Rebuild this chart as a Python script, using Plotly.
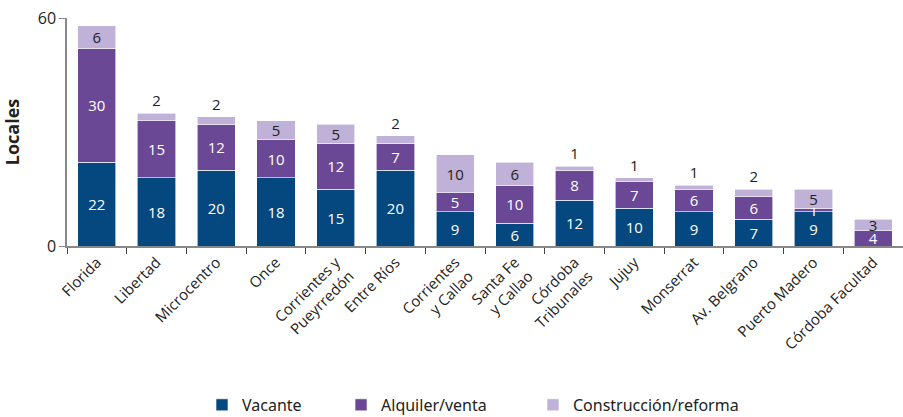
import plotly.graph_objects as go

categories = ["Florida", "Libertad", "Microcentro", "Once", "Corrientes y<br>Pueyrredón",
              "Entre Ríos", "Corrientes<br>y Callao", "Santa Fe<br>y Callao", "Córdoba<br>Tribunales",
              "Jujuy", "Monserrat", "Av. Belgrano", "Puerto Madero", "Córdoba Facultad"]
vacante = [22, 18, 20, 18, 15, 20, 9, 6, 12, 10, 9, 7, 9, 0]
alquiler = [30, 15, 12, 10, 12, 7, 5, 10, 8, 7, 6, 6, 1, 4]
construccion = [6, 2, 2, 5, 5, 2, 10, 6, 1, 1, 1, 2, 5, 3]

c_vac = "#05487f"
c_alq = "#6a4896"
c_con = "#bfb1d7"
font_fam = "Open Sans, DejaVu Sans, sans-serif"

def txt(vals):
    return [str(v) if v > 0 else "" for v in vals]

common = dict(insidetextanchor="middle", constraintext="none", textangle=0, cliponaxis=False, showlegend=True)

fig = go.Figure()
fig.add_bar(x=categories, y=vacante, name="Vacante", legend="legend",
            marker=dict(color=c_vac, line=dict(color="white", width=0.6)),
            text=txt(vacante), textposition="inside",
            textfont=dict(color="white", size=15, family=font_fam), **common)
fig.add_bar(x=categories, y=alquiler, name="Alquiler/venta", legend="legend2",
            marker=dict(color=c_alq, line=dict(color="white", width=0.6)),
            text=txt(alquiler), textposition="inside",
            textfont=dict(color="white", size=15, family=font_fam), **common)
fig.add_bar(x=categories, y=construccion, name="Construcción/reforma", legend="legend3",
            marker=dict(color=c_con, line=dict(color="white", width=0.6)),
            text=txt(construccion), textposition=["outside" if v <= 2 else "inside" for v in construccion],
            textfont=dict(color="#222222", size=15, family=font_fam), **common)

leg_common = dict(orientation="h", xanchor="left", yref="container", y=0.029, yanchor="middle",
                  font=dict(size=16, family="Noto Sans, sans-serif", color="#222222"), itemwidth=30)

fig.update_layout(
    barmode="stack", bargap=0.36,
    width=903, height=417,
    margin=dict(l=67, r=0, t=18, b=171),
    plot_bgcolor="white", paper_bgcolor="white",
    font=dict(family=font_fam, color="#222222", size=15),
    uniformtext=dict(minsize=8, mode="show"),
    showlegend=True,
    legend=dict(x=0.1615, **leg_common),
    legend2=dict(x=0.3278, **leg_common),
    legend3=dict(x=0.5574, **leg_common),
    yaxis=dict(range=[0, 60], tickvals=[0, 60], showgrid=False, showline=True, linecolor="#888888", linewidth=1.5,
               ticks="outside", ticklen=6, tickcolor="#888888", tickfont=dict(size=16), automargin=False,
               title=dict(text="<b>Locales</b>", font=dict(size=18), standoff=14), zeroline=False),
    xaxis=dict(showline=True, linecolor="#888888", linewidth=1.5, ticks="outside", ticklen=6, tickcolor="#444444",
               tickson="boundaries", tickangle=-45, tickfont=dict(size=15), showgrid=False, automargin=False),
)

fig.write_html("out.html", config={"displayModeBar": False},
               post_script="document.body.style.margin='0';document.body.style.overflow='hidden';")
